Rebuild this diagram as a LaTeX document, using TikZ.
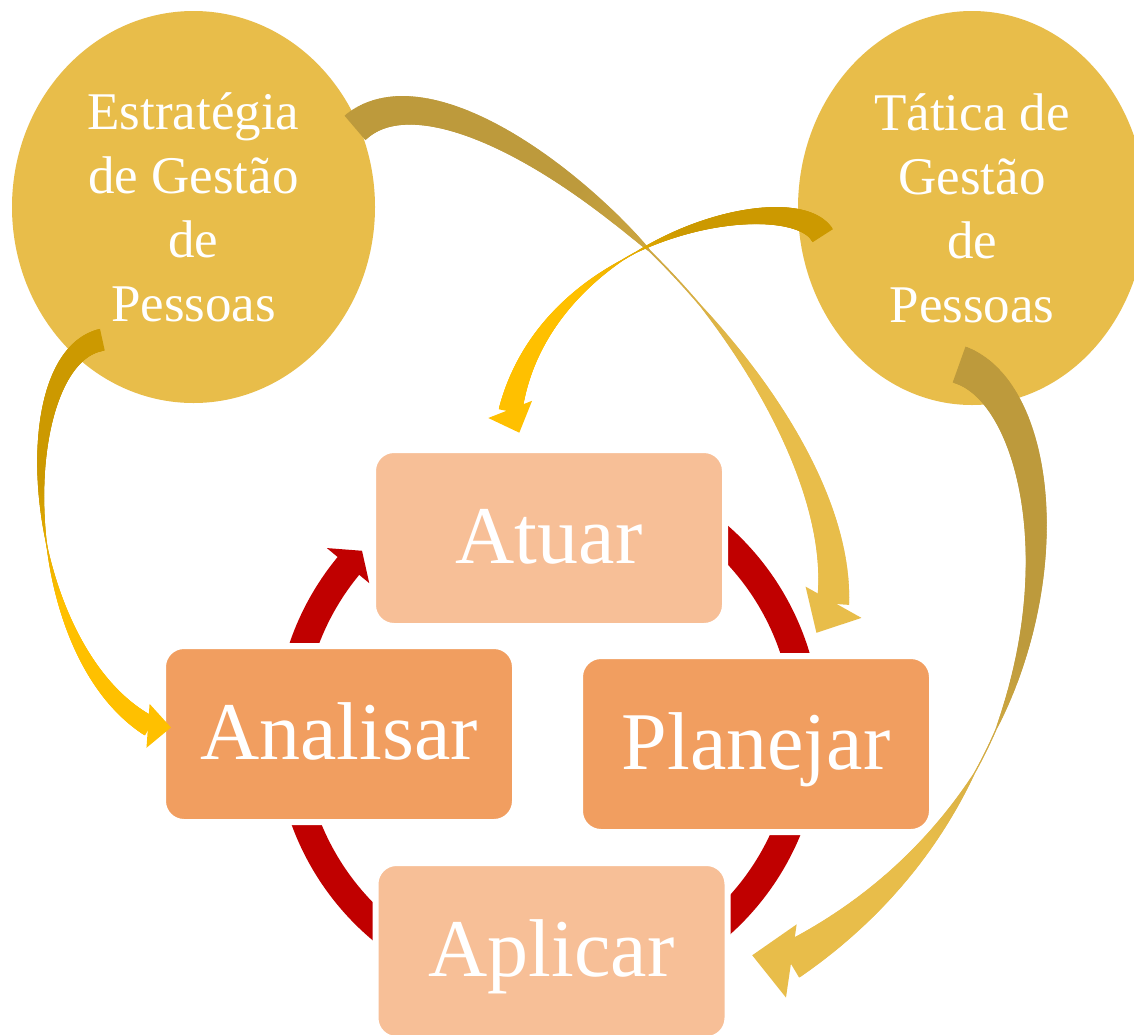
\documentclass[tikz,border=0pt]{standalone}
\usepackage{fontspec}
\setmainfont{Liberation Serif}
\usetikzlibrary{shapes.geometric,decorations.markings,calc}
\definecolor{circfill}{HTML}{E8BD4A}
\definecolor{boxlight}{HTML}{F7BF97}
\definecolor{boxdark}{HTML}{F19E60}
\definecolor{cycred}{HTML}{C00000}
\definecolor{goldA}{HTML}{CC9900}
\definecolor{goldB}{HTML}{FFC000}
\definecolor{bronzeA}{HTML}{BD9A3C}
\definecolor{bronzeB}{HTML}{E8BD4A}
\tikzset{
  tp wa/.store in=\tpwa, tp wm/.store in=\tpwm, tp wb/.store in=\tpwb,
  tp ma/.store in=\tpma, tp mb/.store in=\tpmb, tp pa/.store in=\tppa,
  tp ca/.store in=\tpca, tp cb/.store in=\tpcb,
  tp hw/.store in=\tphw, tp hl/.store in=\tphl, tp hr/.store in=\tphr,
  tp pa=1,
  taperband/.style={
    decoration={markings,
      mark=between positions 0 and 1 step 0.002 with {%
        \pgfmathsetmacro\tpf{(\pgfkeysvalueof{/pgf/decoration/mark info/sequence number}-1)*0.002}%
        \pgfmathsetmacro\tpw{\tpf<\tpma ? \tpwm+(\tpwa-\tpwm)*(max(1-\tpf/\tpma,0.0001))^\tppa : (\tpf<\tpmb ? \tpwm : \tpwm+(\tpwb-\tpwm)*(\tpf-\tpmb)/(1-\tpmb))}%
        \pgfmathtruncatemacro\tpc{max(0,min(100,100*(1-(\tpf-\tpma+0.12)/(\tpmb-\tpma+0.24))))}%
        \edef\tpcol{\tpca!\tpc!\tpcb}%
        \path[fill=\tpcol] (-1.4,-\tpw/2) rectangle (1.4,\tpw/2);
      }
    },
    decorate
  },
  taperhead/.style={
    decoration={markings,
      mark=at position 0.9995 with {%
        \path[fill=\tpcb, rotate=\tphr] (-1,-\tphw) -- (\tphl,0) -- (-1,\tphw) -- cycle;
      }},
    decorate
  },
  circnode/.style={ellipse, fill=circfill, inner sep=0pt, text=white, align=center,
    font=\fontsize{53}{64}\selectfont},
  boxnode/.style={rectangle, rounded corners=21, draw=white, line width=6,
    minimum width=352, minimum height=176, inner sep=0pt, text=white,
    font=\fontsize{82}{98}\selectfont, text height=50pt, text depth=0pt},
  cycarc/.style={draw=cycred, line width=28},
}
\newcommand\goldarrow[2]{\path[taperband,#1] #2; \path[taperhead,#1] #2;}
\begin{document}
\begin{tikzpicture}[x=1pt,y=-1pt]
\useasboundingbox (0,0) rectangle (1134,1034);
\clip (0,0) rectangle (1134,1034);
\fill[white] (0,0) rectangle (1134,1034);
\coordinate (c) at (548,731);
% red cycle arcs (under the boxes)
\draw[cycarc, shift={(c)}] plot[domain=180:220, samples=41] ({259*cos(\x)},{259*sin(\x)});
\fill[cycred] ($(c)+(219.6:287)$) -- ($(c)+(224.1:259)$) -- ($(c)+(219.6:232)$) -- cycle;
\draw[cycarc, shift={(c)}] plot[domain=290:360, samples=71] ({259*cos(\x)},{259*sin(\x)});
\draw[cycarc, shift={(c)}] plot[domain=0:52, samples=53] ({259*cos(\x)},{259*sin(\x)});
\draw[cycarc, shift={(c)}] plot[domain=125:180, samples=56] ({259*cos(\x)},{259*sin(\x)});
% boxes
\node[boxnode, fill=boxlight] (atu) at (549,538) {Atuar};
\node[boxnode, fill=boxdark] (ana) at (339,734) {Analisar};
\node[boxnode, fill=boxdark] (pla) at (756,744) {Planejar};
\node[boxnode, fill=boxlight] (apl) at (551.5,951) {Aplicar};
% circles
\node[circnode, minimum width=363, minimum height=392] (est) at (193.5,207) {Estratégia\\de Gestão\\de\\Pessoas};
\node[circnode, minimum width=348, minimum height=394] (tat) at (972,208) {Tática de\\Gestão\\de\\Pessoas};
% tapered arrows
\coordinate (L0) at ($(est.center)+(-92.5,133)$);
\coordinate (L1) at ($(ana.center)+(-189.8,-8)$);
\coordinate (E0) at ($(est.center)+(162.5,-80)$);
\coordinate (E1) at ($(pla.center)+(77,-140.5)$);
\coordinate (T0) at ($(tat.center)+(-150,26.5)$);
\coordinate (T1) at ($(atu.center)+(-38.5,-127.5)$);
\coordinate (R0) at ($(tat.center)+(-11.6,157)$);
\coordinate (R1) at ($(apl.center)+(238.5,10)$);
\goldarrow{tp wa=22, tp wm=1, tp wb=21, tp ma=0.5, tp mb=0.52,
  tp ca=goldA, tp cb=goldB, tp hw=22, tp hl=22, tp hr=26.5}
  {(L0) .. controls +(-91,20) and +(-129.2,-76) .. (L1)}
\goldarrow{tp wa=32, tp wm=1.5, tp wb=33, tp ma=0.45, tp mb=0.55, tp pa=0.7,
  tp ca=bronzeA, tp cb=bronzeB, tp hw=32, tp hl=34, tp hr=-25}
  {(E0) .. controls +(114,-97) and +(17,-223.5) .. (E1)}
\goldarrow{tp wa=24, tp wm=1, tp wb=24, tp ma=0.48, tp mb=0.52,
  tp ca=goldA, tp cb=goldB, tp hw=23.5, tp hl=24, tp hr=33}
  {(T0) .. controls +(-32.4,-50.5) and +(36,-176.5) .. (T1)}
\goldarrow{tp wa=38, tp wm=1, tp wb=39, tp ma=0.55, tp mb=0.62, tp pa=0.85,
  tp ca=bronzeA, tp cb=bronzeB, tp hw=37, tp hl=38.5, tp hr=-39}
  {(R0) .. controls +(112.8,40.2) and +(301,-178.5) .. (R1)}
\end{tikzpicture}
\end{document}
